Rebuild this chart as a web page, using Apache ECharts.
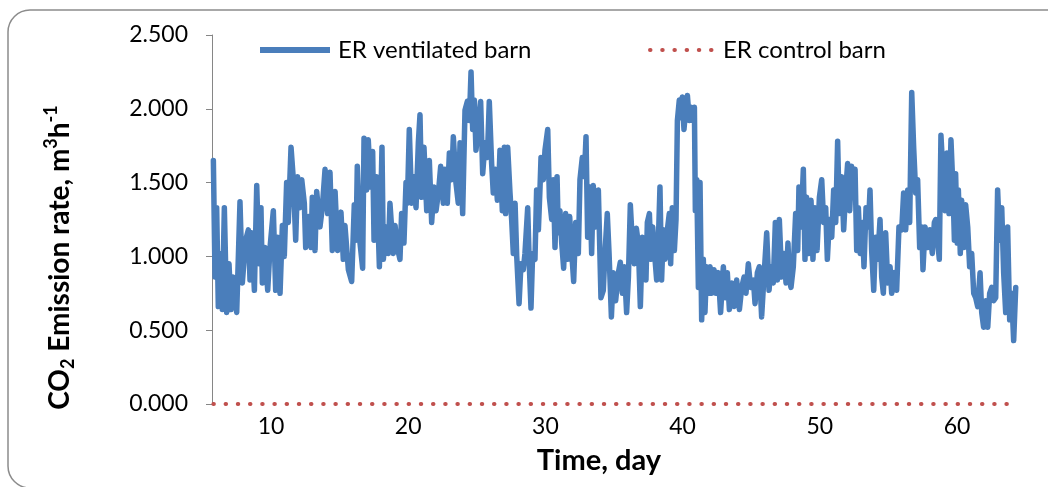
<!DOCTYPE html>
<html>
<head>
<meta charset="utf-8">
<script src="https://cdn.jsdelivr.net/npm/echarts@6/dist/echarts.min.js"></script>
<style>
  html, body { margin: 0; padding: 0; background: #fff; }
  #chart { width: 1048px; height: 487px; }
</style>
</head>
<body>
<div id="chart"></div>
<script>
// time axis (day) and ER of the ventilated barn (m3/h)
const days = [
  5.80, 5.92, 6.04, 6.16, 6.36, 6.45, 6.60, 6.77, 6.94, 7.09, 7.23, 7.50, 7.74, 7.91, 8.15, 8.35, 8.47, 8.59, 8.79, 8.96,
  9.13, 9.27, 9.37, 9.56, 9.76, 9.93, 10.17, 10.34, 10.49, 10.66, 10.83, 10.97, 11.14, 11.26, 11.46, 11.63, 11.80, 11.94, 12.11, 12.24,
  12.43, 12.53, 12.72, 12.92, 13.01, 13.21, 13.33, 13.57, 13.74, 13.94, 14.13, 14.30, 14.47, 14.67, 14.86, 15.10, 15.27, 15.39, 15.64, 15.88,
  16.07, 16.20, 16.29, 16.49, 16.68, 16.78, 16.97, 17.09, 17.26, 17.41, 17.51, 17.70, 17.90, 18.09, 18.19, 18.38, 18.55, 18.67, 18.92, 19.04,
  19.21, 19.40, 19.52, 19.69, 19.84, 19.94, 20.08, 20.25, 20.42, 20.57, 20.74, 20.86, 20.98, 21.15, 21.35, 21.54, 21.71, 21.88, 22.03, 22.20,
  22.37, 22.56, 22.68, 22.85, 23.00, 23.17, 23.29, 23.48, 23.65, 23.78, 23.97, 24.14, 24.31, 24.46, 24.58, 24.70, 24.82, 24.94, 25.11, 25.28,
  25.43, 25.60, 25.77, 25.91, 26.08, 26.20, 26.35, 26.50, 26.64, 26.69, 26.86, 27.01, 27.10, 27.25, 27.42, 27.54, 27.66, 27.79, 27.91, 28.08,
  28.22, 28.39, 28.51, 28.71, 28.83, 28.95, 29.07, 29.24, 29.36, 29.49, 29.61, 29.68, 29.85, 29.97, 30.17, 30.29, 30.46, 30.58, 30.70, 30.85,
  30.94, 31.06, 31.19, 31.33, 31.48, 31.62, 31.77, 31.91, 32.06, 32.21, 32.40, 32.52, 32.69, 32.84, 32.96, 33.08, 33.25, 33.37, 33.49, 33.66,
  33.86, 34.05, 34.22, 34.34, 34.51, 34.64, 34.81, 34.95, 35.12, 35.32, 35.46, 35.61, 35.75, 35.92, 36.05, 36.19, 36.34, 36.48, 36.63, 36.77,
  36.92, 37.07, 37.21, 37.33, 37.43, 37.58, 37.70, 37.82, 37.99, 38.11, 38.23, 38.35, 38.47, 38.60, 38.72, 38.89, 39.03, 39.13, 39.25, 39.40,
  39.52, 39.62, 39.76, 39.86, 39.98, 40.10, 40.22, 40.35, 40.49, 40.61, 40.73, 40.86, 40.93, 41.03, 41.15, 41.27, 41.39, 41.51, 41.63, 41.75,
  41.88, 42.00, 42.12, 42.29, 42.43, 42.60, 42.77, 42.97, 43.11, 43.26, 43.41, 43.58, 43.75, 43.94, 44.14, 44.31, 44.48, 44.62, 44.79, 44.96,
  45.16, 45.28, 45.45, 45.59, 45.76, 45.93, 46.13, 46.30, 46.44, 46.61, 46.76, 46.91, 47.05, 47.22, 47.39, 47.54, 47.68, 47.78, 47.90, 48.07,
  48.24, 48.39, 48.48, 48.63, 48.80, 48.92, 49.04, 49.21, 49.36, 49.50, 49.65, 49.80, 49.97, 50.14, 50.28, 50.43, 50.55, 50.70, 50.87, 51.01,
  51.16, 51.30, 51.42, 51.59, 51.74, 51.89, 52.03, 52.18, 52.32, 52.47, 52.57, 52.69, 52.81, 52.95, 53.10, 53.22, 53.37, 53.54, 53.66, 53.78,
  53.93, 54.07, 54.22, 54.39, 54.51, 54.63, 54.80, 54.95, 55.12, 55.24, 55.43, 55.60, 55.77, 55.97, 56.11, 56.26, 56.41, 56.55, 56.70, 56.84,
  56.99, 57.13, 57.28, 57.43, 57.52, 57.67, 57.86, 58.03, 58.20, 58.35, 58.45, 58.59, 58.71, 58.83, 59.00, 59.13, 59.27, 59.42, 59.56, 59.71,
  59.81, 59.90, 60.02, 60.10, 60.24, 60.34, 60.49, 60.63, 60.78, 60.92, 61.07, 61.22, 61.36, 61.51, 61.68, 61.80, 61.94, 62.09, 62.24, 62.38,
  62.53, 62.67, 62.82, 62.96, 63.11, 63.26, 63.40, 63.55, 63.69, 63.84, 63.98, 64.13, 64.28
]
const ventilated = [
  1.65, 0.86, 1.33, 0.66, 1.02, 0.64, 1.33, 0.62, 0.95, 0.64, 0.86, 0.62, 1.37, 0.82, 1.11, 1.18, 0.84, 1.16, 0.77, 1.48,
  0.95, 1.33, 0.82, 1.06, 0.77, 1.06, 1.31, 0.77, 1.13, 0.75, 1.21, 1.00, 1.50, 1.23, 1.74, 1.52, 1.11, 1.54, 1.33, 1.52,
  1.36, 1.06, 1.27, 1.06, 1.40, 1.04, 1.44, 1.20, 1.33, 1.59, 1.29, 1.57, 1.04, 1.44, 1.04, 1.30, 0.98, 1.21, 0.91, 0.83,
  1.35, 1.11, 1.61, 1.09, 0.92, 1.80, 1.45, 1.79, 1.47, 1.71, 1.11, 1.54, 0.93, 1.74, 0.98, 1.20, 1.02, 1.36, 1.02, 1.21,
  1.06, 0.98, 1.29, 1.09, 1.50, 1.36, 1.86, 1.36, 1.54, 1.33, 1.77, 1.96, 1.40, 1.74, 1.31, 1.65, 1.23, 1.47, 1.31, 1.43,
  1.61, 1.36, 1.59, 1.36, 1.70, 1.52, 1.81, 1.50, 1.36, 1.77, 1.29, 1.99, 2.05, 1.92, 2.25, 1.86, 2.06, 1.72, 1.88, 2.05,
  1.56, 1.77, 1.67, 2.05, 1.63, 1.43, 1.59, 1.38, 1.59, 1.72, 1.31, 1.74, 1.29, 1.74, 1.43, 1.25, 1.02, 1.36, 1.00, 0.68,
  0.95, 0.91, 1.02, 1.33, 0.93, 0.65, 1.02, 0.98, 1.45, 1.18, 1.47, 1.67, 1.52, 1.72, 1.86, 1.40, 1.25, 1.52, 1.06, 1.54,
  1.16, 1.31, 1.09, 0.92, 1.29, 0.98, 1.27, 1.04, 0.83, 1.23, 1.02, 1.52, 1.67, 1.54, 1.81, 1.13, 1.47, 1.02, 1.48, 1.20,
  1.45, 0.72, 0.77, 1.02, 1.29, 1.02, 0.59, 0.89, 0.70, 0.89, 0.96, 0.75, 0.93, 0.62, 0.86, 1.35, 1.09, 0.95, 1.19, 1.09,
  0.66, 1.13, 1.02, 0.84, 1.23, 1.29, 0.98, 1.20, 0.98, 0.84, 1.09, 1.47, 0.84, 1.18, 0.98, 1.18, 1.29, 0.95, 1.33, 1.04,
  1.25, 1.92, 2.06, 1.94, 2.08, 1.86, 1.99, 2.09, 1.92, 2.01, 1.92, 2.01, 1.31, 1.52, 0.79, 1.50, 0.57, 0.98, 0.62, 0.93,
  0.75, 0.93, 0.75, 0.91, 0.75, 0.89, 0.62, 0.93, 0.72, 0.89, 0.64, 0.82, 0.66, 0.84, 0.64, 0.79, 0.86, 0.75, 0.95, 0.79,
  0.84, 0.68, 0.89, 0.93, 0.59, 0.86, 1.16, 0.77, 0.93, 0.82, 1.23, 0.84, 1.25, 0.86, 1.02, 0.82, 1.09, 0.84, 0.79, 0.93,
  1.29, 1.04, 1.47, 1.20, 1.59, 0.98, 1.40, 1.02, 1.38, 0.98, 1.33, 1.04, 1.40, 1.52, 1.23, 1.33, 0.98, 1.25, 1.13, 1.45,
  1.23, 1.78, 1.29, 1.54, 1.18, 1.45, 1.63, 1.31, 1.61, 1.43, 1.59, 1.04, 1.33, 1.02, 1.23, 0.93, 1.33, 1.20, 1.45, 1.04,
  0.77, 1.13, 0.98, 1.25, 0.86, 0.75, 1.16, 0.82, 0.93, 0.75, 0.89, 0.77, 1.20, 1.18, 1.43, 1.18, 1.45, 1.23, 2.11, 1.74,
  1.43, 1.52, 1.06, 1.20, 0.91, 1.20, 1.06, 1.18, 1.02, 1.23, 1.25, 1.25, 0.98, 1.82, 1.52, 1.31, 1.70, 1.29, 1.79, 1.45,
  1.11, 1.56, 1.09, 1.45, 1.02, 1.38, 1.06, 1.35, 1.20, 0.93, 1.02, 0.75, 0.72, 0.66, 0.89, 0.62, 0.52, 0.70, 0.52, 0.75,
  0.79, 0.70, 0.72, 1.45, 1.11, 1.33, 0.89, 0.62, 1.20, 0.57, 0.75, 0.43, 0.79
]
// control barn stays at zero over the whole period
const controlDays = [5.80, 64.28]
const control = [0, 0]
const xTicks = [10, 20, 30, 40, 50, 60]

const font = 'Lato'
const blue = '#4A7EBB'
const red = '#C0504D'
const dots = [0.5, 11.7]
const chart = echarts.init(document.getElementById('chart'))

const option = {
  backgroundColor: '#fff',
  animation: false,
  textStyle: { fontFamily: font, color: '#000' },
  graphic: [{
    type: 'rect',
    z: -10,
    shape: { x: 8, y: 10, width: 1080, height: 478, r: 22 },
    style: { fill: 'none', stroke: '#8c8c8c', lineWidth: 1.5 }
  }],
  grid: { left: 212, right: 32, top: 35, bottom: 83 },
  legend: [
    {
      left: 252, top: 33,
      data: ['ER ventilated barn'],
      itemWidth: 70, itemHeight: 16, itemGap: 0,
      itemStyle: { opacity: 0 },
      lineStyle: { width: 6, cap: 'butt' },
      textStyle: { fontFamily: font, fontSize: 24, color: '#000', padding: [0, 0, 0, 3] }
    },
    {
      left: 643, top: 33,
      data: ['ER control barn'],
      itemWidth: 68, itemHeight: 16, itemGap: 0,
      itemStyle: { opacity: 0 },
      lineStyle: { width: 4, type: dots, cap: 'round' },
      textStyle: { fontFamily: font, fontSize: 24, color: '#000' }
    }
  ],
  xAxis: {
    type: 'value',
    min: 5.7,
    max: 64.3,
    name: 'Time, day',
    nameLocation: 'middle',
    nameGap: 42,
    nameTextStyle: { fontFamily: font, fontSize: 29, fontWeight: 'bold', color: '#000', padding: [0, 30, 0, 0] },
    axisLine: { show: false },
    axisTick: { show: false },
    splitLine: { show: false },
    axisLabel: {
      customValues: xTicks,
      fontFamily: font, fontSize: 23, color: '#000', margin: 11
    }
  },
  yAxis: {
    type: 'value',
    min: 0,
    max: 2.5,
    interval: 0.5,
    name: '{a|CO}{sub|2}{a| Emission rate, m}{sup|3}{a|h}{sup|-1}',
    nameLocation: 'middle',
    nameGap: 134,
    nameTextStyle: {
      padding: [0, 76, 0, 0],
      rich: {
        a: { fontFamily: font, fontSize: 28, fontWeight: 'bold', color: '#000' },
        sub: { fontFamily: font, fontSize: 18, fontWeight: 'bold', color: '#000', padding: [16, 0, 0, 0] },
        sup: { fontFamily: font, fontSize: 18, fontWeight: 'bold', color: '#000', padding: [0, 0, 18, 0] }
      }
    },
    axisLine: { show: true, lineStyle: { color: '#868686', width: 1 } },
    axisTick: { show: true, length: 6, lineStyle: { color: '#868686' } },
    splitLine: { show: false },
    axisLabel: {
      fontFamily: font, fontSize: 23, color: '#000', margin: 24,
      formatter: v => v.toFixed(3)
    }
  },
  series: [
    {
      name: 'ER ventilated barn',
      type: 'line',
      data: days.map((d, i) => [d, ventilated[i]]),
      symbol: 'none',
      clip: false,
      color: blue,
      lineStyle: { color: blue, width: 5.5, join: 'round', cap: 'round' },
      z: 3
    },
    {
      name: 'ER control barn',
      type: 'line',
      data: controlDays.map((d, i) => [d, control[i]]),
      symbol: 'none',
      clip: false,
      color: red,
      lineStyle: { color: red, width: 4, type: dots, cap: 'round' },
      z: 4
    }
  ]
}
chart.setOption(option)
</script>
</body>
</html>
